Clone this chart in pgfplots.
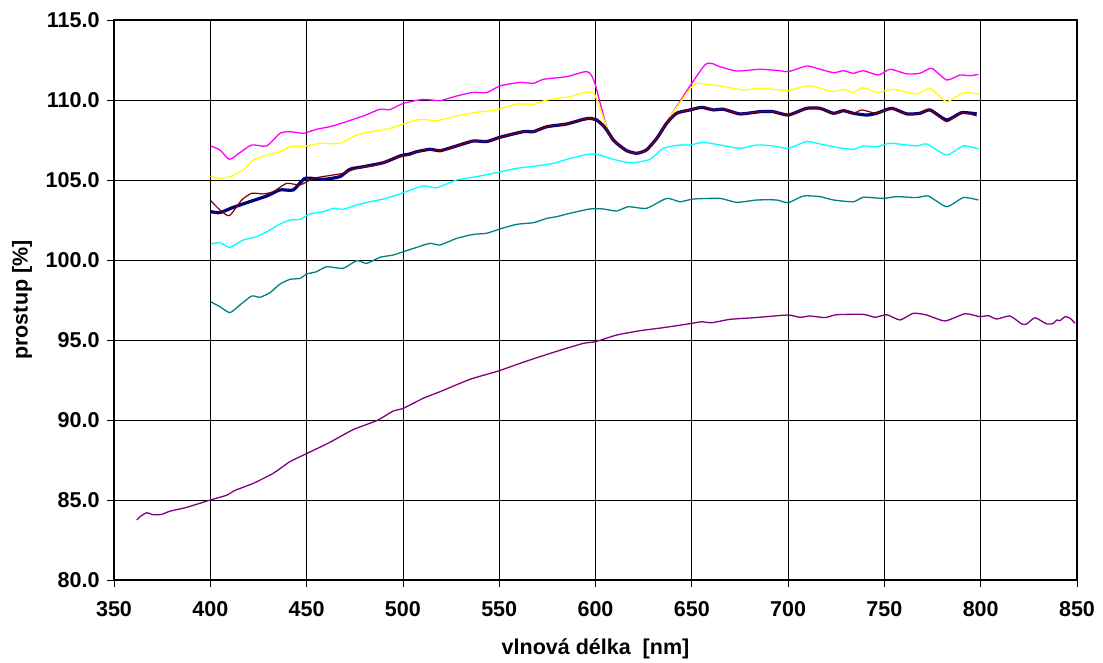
\documentclass[border=0pt]{standalone}
\usepackage{fontspec}
\setmainfont{Liberation Sans}
\usepackage{pgfplots}
\pgfplotsset{compat=1.18}
\definecolor{cMag}{HTML}{FF00FF}
\definecolor{cYel}{HTML}{FFFF00}
\definecolor{cCya}{HTML}{00FFFF}
\definecolor{cTea}{HTML}{008080}
\definecolor{cPur}{HTML}{800080}
\definecolor{cNav}{HTML}{000080}
\definecolor{cBro}{HTML}{800000}
\begin{document}
\begin{tikzpicture}
\path[use as bounding box] (0,0) rectangle (1103pt,663pt);
\begin{axis}[
  at={(114pt,83pt)}, anchor=south west,
  scale only axis, width=963pt, height=560pt,
  xmin=350, xmax=850, ymin=80, ymax=115,
  xtick={350,400,...,850}, ytick={80,85,...,115},
  xticklabels={350,400,450,500,550,600,650,700,750,800,850},
  yticklabels={80.0,85.0,90.0,95.0,100.0,105.0,110.0,115.0},
  grid=major, major grid style={black, line width=0.8pt},
  axis line style={black, line width=1.8pt},
  tick style={black, line width=0.8pt},
  tick align=outside, major tick length=7pt, tick pos=left,
  tick label style={font=\fontsize{21.5}{24}\selectfont\bfseries},
  xticklabel style={yshift=-11pt},
  yticklabel style={xshift=-4pt},
  xlabel={vlnová délka\ \ [nm]}, ylabel={prostup [\%]},
  label style={font=\fontsize{21.5}{24}\selectfont\bfseries},
  xlabel style={at={(axis description cs:0.5,-0.123)}, anchor=center},
  ylabel style={at={(axis description cs:-0.0955,0.5)}, anchor=center},
  every axis plot/.append style={line join=round, smooth, tension=0.35},
]
% magenta
\addplot[cMag, line width=1.3pt] coordinates {
(400.2,107.13)(405,106.88)(409.9,106.29)(415.4,106.71)(421.5,107.19)(429.3,107.13)
(436.2,107.92)(441.4,108.02)(448.3,107.92)(455.2,108.17)(462.1,108.33)(469,108.58)
(479.4,109.0)(488.1,109.42)(493.3,109.40)(500.2,109.79)(510.6,110.04)(519.3,109.96)
(527.9,110.25)(536.6,110.48)(543.5,110.46)(550.4,110.88)(560.8,111.1)(567.7,111.04)
(572.9,111.29)(585,111.46)(594.5,111.77)(597.1,111.67)(599.7,111.04)(606,108.25)
(611,107.29)(616.2,106.83)(621.4,106.67)(626.5,106.88)(631.8,107.6)(636.9,108.54)
(638.7,108.96)(656.8,112.19)(664.6,112.08)(673.3,111.81)(685.4,111.92)(695.8,111.83)
(700.1,111.77)(709.6,112.13)(713.1,112.04)(723.5,111.71)(728.7,111.83)(733.9,111.67)
(739.1,111.83)(746.9,111.56)(753,111.92)(761.6,111.63)(768.5,111.67)(774.6,111.98)
(782.3,111.25)(789.2,111.56)(794.4,111.52)(798.8,111.6)};
% yellow
\addplot[cYel, line width=1.3pt] coordinates {
(400.2,105.25)(404.2,105.1)(410.2,105.21)(417.1,105.63)(422.3,106.25)(429.3,106.56)
(436.2,106.77)(441.4,107.08)(450,107.13)(456.9,107.29)(467.3,107.29)(476,107.81)
(486.4,108.08)(493.3,108.23)(500.2,108.5)(508.9,108.79)(517.5,108.71)(527.9,109.0)
(538.3,109.23)(548.7,109.38)(559.1,109.75)(567.7,109.73)(574.7,110.0)(586.8,110.21)
(592,110.42)(596.3,110.5)(599.7,110.31)(606.2,108.2)(611,107.29)(616.2,106.83)
(621.4,106.67)(626.5,106.88)(631.8,107.6)(636.9,108.54)(638.7,108.96)(650.8,110.94)
(656,111.0)(664.6,110.88)(676.7,110.63)(685.4,110.73)(695.8,110.63)(700.1,110.58)
(709.6,110.88)(713,110.86)(723.5,110.52)(728.7,110.67)(733.9,110.48)(739.1,110.77)
(746,110.48)(754.6,110.67)(766.8,110.38)(773.7,110.73)(782.3,109.9)(791,110.46)
(798.8,110.36)};
% cyan
\addplot[cCya, line width=1.3pt] coordinates {
(400.2,101.0)(405,101.08)(410.2,100.79)(417.1,101.25)(424.1,101.46)(431,101.88)
(436.2,102.25)(441.4,102.5)(446.6,102.54)(451.8,102.88)(458.7,103.02)(463.9,103.23)
(469,103.17)(476,103.44)(482.9,103.64)(489.8,103.81)(496.8,104.06)(500.2,104.21)
(510.6,104.63)(517.5,104.52)(527.9,105.0)(538.3,105.21)(548.7,105.46)(559.1,105.73)
(569.5,105.88)(578.1,106.04)(586.8,106.35)(597.1,106.63)(602.3,106.56)(607.5,106.35)
(614.4,106.15)(619.6,106.08)(628.3,106.29)(635.2,106.98)(643.9,107.19)(649.1,107.19)
(656,107.35)(664.6,107.19)(675,106.98)(683.7,107.19)(692.3,107.13)(700.1,106.98)
(709.6,107.4)(716.6,107.25)(725.2,107.04)(733.9,106.92)(739.1,107.13)(746,107.08)
(753,107.29)(766.8,107.13)(772,107.25)(782.3,106.56)(791,107.13)(798.8,106.94)};
% teal
\addplot[cTea, line width=1.3pt] coordinates {
(400.2,97.39)(405,97.08)(410.2,96.71)(415.4,97.19)(421.5,97.75)(425.8,97.67)
(431,97.96)(436.2,98.5)(441.4,98.79)(446.6,98.85)(450,99.12)(455.2,99.27)
(460.4,99.58)(469,99.48)(476,99.96)(481.2,99.79)(488.1,100.17)(495,100.31)
(500.2,100.52)(507.2,100.79)(514.1,101.04)(519.3,100.94)(527.9,101.35)(536.6,101.6)
(543.5,101.67)(550.4,101.94)(559.1,102.23)(567.7,102.33)(574.7,102.6)(579.9,102.71)
(586.8,102.92)(597.1,103.19)(604,103.19)(611,103.06)(617,103.33)(626.5,103.23)
(636.9,103.85)(643.9,103.64)(650.8,103.81)(664.6,103.85)(673.3,103.6)(683.7,103.75)
(694.1,103.75)(700.1,103.58)(707.9,104.0)(716.6,103.96)(723.5,103.75)(733.9,103.64)
(739.1,103.92)(749.5,103.85)(756.4,103.96)(766.8,103.9)(772.8,104.0)(782.3,103.33)
(791,103.9)(798.8,103.75)};
% purple
\addplot[cPur, line width=1.3pt] coordinates {
(361.8,83.75)(364,84.0)(367,84.2)(370.4,84.08)(374.8,84.1)(379,84.3)(387.7,84.54)
(400,85.0)(408.5,85.3)(412.8,85.6)(422.3,86.04)(432.7,86.67)(441.4,87.4)(450,87.9)
(462,88.6)(474.2,89.4)(486.4,89.96)(495,90.56)(500.2,90.73)(510.6,91.36)(519.3,91.77)
(534.8,92.54)(549.5,93.06)(560.8,93.54)(571.2,93.96)(583.3,94.42)(593.7,94.79)
(600.1,94.9)(611,95.31)(623.1,95.58)(635.2,95.77)(650,96.04)(655.1,96.14)(660.3,96.08)
(669.8,96.29)(681.9,96.39)(688.9,96.46)(700.1,96.56)(706.2,96.42)(711.4,96.5)
(719.2,96.4)(725.2,96.58)(739.1,96.6)(745.1,96.42)(751.2,96.58)(758.1,96.25)
(765,96.67)(771.9,96.56)(781.5,96.19)(791.8,96.64)(799.6,96.46)(804,96.52)
(808.3,96.31)(815.2,96.5)(821.3,96.0)(823.9,96.0)(828.2,96.39)(834.3,96.0)
(837.7,96.04)(839.5,96.25)(841.2,96.21)(843.8,96.46)(846.4,96.36)(849,96.04)};
% navy (thick)
\addplot[cNav, line width=3.2pt] coordinates {
(400.2,103.02)(405,102.96)(411.9,103.29)(420.6,103.65)(429.3,104.0)(436.2,104.38)
(443.1,104.38)(449.2,105.1)(458.7,105.04)(467.3,105.21)(472.5,105.67)(479.4,105.83)
(489.8,106.08)(498.5,106.5)(503.7,106.63)(507.2,106.77)(514.1,106.92)(519.3,106.83)
(527.9,107.13)(536.6,107.44)(543.5,107.4)(550.4,107.67)(562.5,108.02)(567.7,108.02)
(574.7,108.33)(585,108.5)(593.7,108.79)(597.1,108.85)(600.6,108.75)(604,108.4)
(605.8,108.13)(609.2,107.5)(611,107.29)(616.2,106.83)(621.4,106.67)(626.5,106.88)
(631.8,107.6)(636.9,108.54)(642.1,109.17)(649.1,109.38)(655.1,109.54)(661.2,109.38)
(666.4,109.42)(675,109.13)(685.4,109.27)(692.3,109.27)(700.1,109.06)(709.6,109.48)
(716.6,109.48)(723.5,109.17)(728.7,109.33)(733.9,109.17)(740.8,109.06)(746,109.17)
(753.8,109.48)(761.6,109.13)(768.5,109.17)(773.7,109.38)(782.3,108.75)(790.1,109.21)
(797.9,109.13)};
% brown
\addplot[cBro, line width=1.2pt] coordinates {
(400.2,103.71)(405,103.13)(409.9,102.77)(416.3,103.75)(421.5,104.17)(427.5,104.13)
(432.7,104.27)(439.6,104.79)(446.6,104.69)(453.5,105.1)(460.4,105.25)(469,105.42)
(476,105.73)(486.4,105.94)(496.8,106.42)(503.7,106.56)(507.2,106.77)(514.1,106.92)
(519.3,106.83)(527.9,107.13)(536.6,107.44)(543.5,107.4)(550.4,107.67)(562.5,108.02)
(567.7,108.02)(574.7,108.33)(585,108.5)(593.7,108.79)(597.1,108.85)(600.6,108.75)
(604,108.4)(605.8,108.13)(609.2,107.5)(611,107.29)(616.2,106.83)(621.4,106.67)
(626.5,106.88)(631.8,107.6)(636.9,108.54)(642.1,109.17)(649.1,109.38)(655.1,109.54)
(661.2,109.38)(666.4,109.42)(675,109.13)(685.4,109.27)(692.3,109.27)(700.1,109.06)
(709.6,109.48)(716.6,109.48)(723.5,109.17)(728.7,109.33)(733.9,109.17)(738.3,109.38)
(746,109.17)(753.8,109.48)(761.6,109.13)(768.5,109.17)(773.7,109.38)(782.3,108.65)
(790.1,109.21)(797.9,109.0)};
\end{axis}
\end{tikzpicture}
\end{document}
